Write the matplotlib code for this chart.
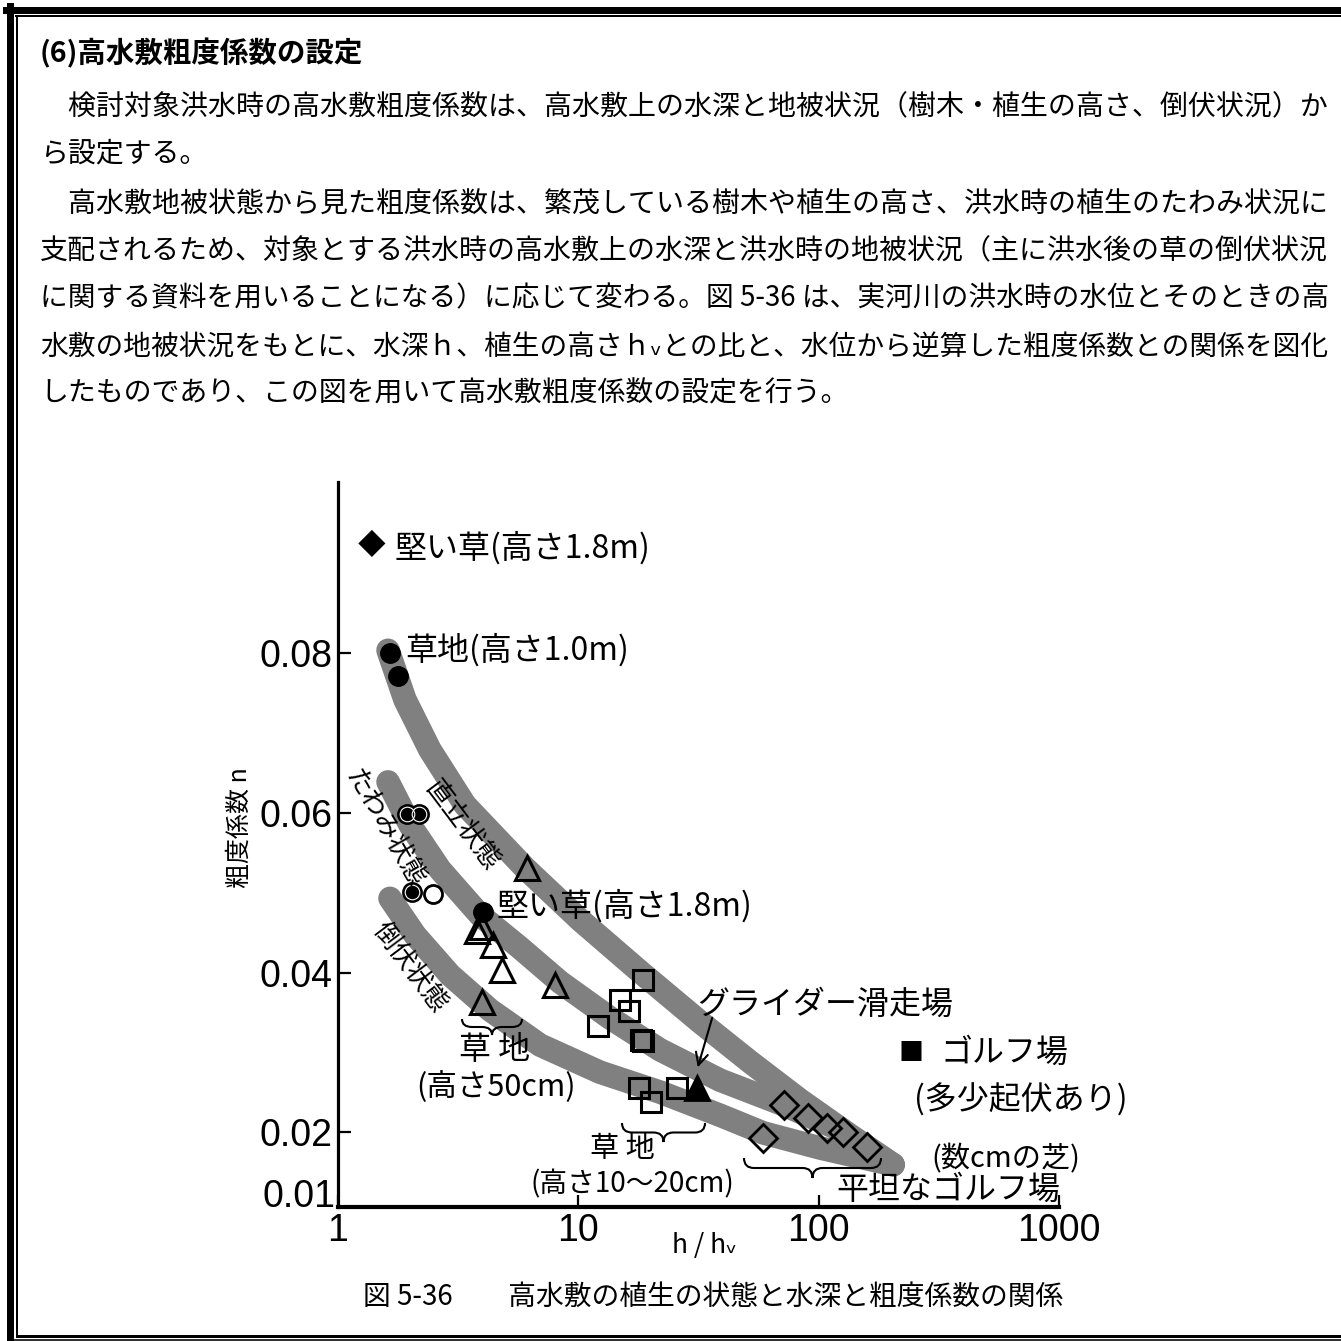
"""
高水敷粗度係数の設定 (図5-36) の再現
"""

import matplotlib
matplotlib.use('Agg')
import matplotlib.pyplot as plt
from matplotlib.lines import Line2D
from matplotlib.patches import PathPatch, FancyArrowPatch
from matplotlib.path import Path
from matplotlib.ticker import NullLocator

W = 1341
JP = ['Noto Sans CJK JP', 'DejaVu Sans']
NUM = ['Liberation Sans Narrow', 'Liberation Sans', 'DejaVu Sans']
plt.rcParams['font.family'] = JP

# ---- 本文 ----
title = '(6)高水敷粗度係数の設定'
body_lines = [
    '　検討対象洪水時の高水敷粗度係数は、高水敷上の水深と地被状況（樹木・植生の高さ、倒伏状況）か',
    'ら設定する。',
    '　高水敷地被状態から見た粗度係数は、繁茂している樹木や植生の高さ、洪水時の植生のたわみ状況に',
    '支配されるため、対象とする洪水時の高水敷上の水深と洪水時の地被状況（主に洪水後の草の倒伏状況',
    'に関する資料を用いることになる）に応じて変わる。図 5-36 は、実河川の洪水時の水位とそのときの高',
    '水敷の地被状況をもとに、水深ｈ、植生の高さｈᵥとの比と、水位から逆算した粗度係数との関係を図化',
    'したものであり、この図を用いて高水敷粗度係数の設定を行う。',
]
body_justify = [True, False, True, True, True, True, False]
caption = '図 5-36　　高水敷の植生の状態と水深と粗度係数の関係'

# ---- 軸 ----
x_ticks = [1, 10, 100, 1000]
x_tick_labels = ['1', '10', '100', '1000']
y_ticks = [0.02, 0.04, 0.06, 0.08]
y_tick_labels = ['0.02', '0.04', '0.06', '0.08']

# ---- 帯 (直立 / たわみ / 倒伏) ----
band_upper_x = [1.615, 1.90, 2.415, 3.378, 6.00, 10.16, 18.06, 32.1, 51.8, 83.7, 135, 204]
band_upper_y = [0.0804, 0.0742, 0.0679, 0.0610, 0.0531, 0.0466, 0.0401, 0.0338, 0.0288, 0.0240, 0.0196, 0.0159]
band_mid_x = [1.615, 1.994, 2.658, 3.90, 5.72, 8.39, 13.55, 21.9, 38.9, 69.1, 122.8, 204]
band_mid_y = [0.0639, 0.0585, 0.0529, 0.0472, 0.0431, 0.0388, 0.0343, 0.0303, 0.0265, 0.0236, 0.0203, 0.0159]
band_low_x = [1.646, 2.091, 2.925, 4.29, 6.93, 12.31, 21.9, 38.9, 58.7, 101.3, 204]
band_low_y = [0.0493, 0.0447, 0.0397, 0.0353, 0.0309, 0.0275, 0.0250, 0.0221, 0.0199, 0.0180, 0.0159]

# ---- 観測点 ----
grass10_x = [1.646, 1.777]              # 草地(高さ1.0m) ●
grass10_y = [0.0801, 0.0772]
ring_x = [1.931, 2.179, 2.026]          # ◉
ring_y = [0.0599, 0.0599, 0.0501]
open_circ_x = [2.493]                   # ○
open_circ_y = [0.0498]
hard_x = [4.025]                        # 堅い草(高さ1.8m) ●
hard_y = [0.0476]
tri_x = [6.10, 3.963, 3.788, 4.43, 4.80, 8.00, 3.963]
tri_y = [0.0531, 0.0457, 0.0452, 0.04345, 0.0403, 0.0384, 0.0363]
sq_x = [18.64, 14.91, 16.30, 12.11, 18.18, 18.5, 17.94, 20.07, 25.67]
sq_y = [0.0391, 0.03655, 0.0352, 0.0333, 0.0316, 0.0314, 0.02548, 0.0238, 0.02548]
glider_x = [31.27]
glider_y = [0.02548]
dia_x = [72.0, 90.3, 108.2, 126.8, 159.0, 58.7]
dia_y = [0.02339, 0.02172, 0.02046, 0.02004, 0.01816, 0.01921]


def fx(px):
    return px / W


def fy(py):
    return 1 - py / W


def ptext(px, py, s, size, ha='left', va='center', **kw):
    return fig.text(fx(px), fy(py), s, fontsize=size, ha=ha, va=va, family=JP, **kw)


def brace(x0, x1, y0, h, lw=1.5):
    xm = (x0 + x1) / 2
    r = min(10, (xm - x0) / 2)
    ym = y0 + h / 2
    pts = [(x0, y0), (x0, ym), (x0 + r, ym), (xm - r, ym), (xm, ym), (xm, y0 + h),
           (xm, ym), (xm + r, ym), (x1 - r, ym), (x1, ym), (x1, y0)]
    codes = [Path.MOVETO, Path.CURVE3, Path.CURVE3, Path.LINETO, Path.CURVE3, Path.CURVE3,
             Path.CURVE3, Path.CURVE3, Path.LINETO, Path.CURVE3, Path.CURVE3]
    path = Path([(fx(a), fy(b)) for a, b in pts], codes)
    fig.add_artist(PathPatch(path, transform=fig.transFigure, fc='none', ec='black', lw=lw))


fig = plt.figure(figsize=(W / 100, W / 100), dpi=100)
fig.patch.set_facecolor('white')

# 枠線
PX = 0.72
fig.add_artist(Line2D([fx(6), fx(W)], [fy(9.5), fy(9.5)], lw=7 * PX, color='black'))
fig.add_artist(Line2D([fx(10), fx(10)], [fy(6), fy(W)], lw=7 * PX, color='black'))
fig.add_artist(Line2D([fx(16), fx(W)], [fy(16.2), fy(16.2)], lw=2 * PX, color='black'))
fig.add_artist(Line2D([fx(17), fx(17)], [fy(16), fy(1336)], lw=2 * PX, color='black'))
fig.add_artist(Line2D([fx(17), fx(W)], [fy(1335.5), fy(1335.5)], lw=3 * PX, color='black'))
fig.add_artist(Line2D([fx(10), fx(W)], [fy(1339.8), fy(1339.8)], lw=1.6 * PX, color='black'))

# 本文
ptext(40, 53, title, 20.5, fontweight='bold')
body_y = [107, 153, 205, 251, 298, 347, 393]
base_fs = 20.1
renderer = fig.canvas.get_renderer()
for s, yy, just in zip(body_lines, body_y, body_justify):
    t = ptext(40, yy, s, base_fs)
    if just:
        w = t.get_window_extent(renderer).width
        t.set_fontsize(base_fs * 1285 / w)
ptext(713, 1297, caption, 20, ha='center')

# グラフ
ax = fig.add_axes([fx(338), fy(1207), (1059 - 338) / W, (1207 - 482) / W])
ax.set_facecolor('none')
ax.set_xscale('log')
ax.set_xlim(1, 1000)
ax.set_ylim(0.0106, 0.1015)

band_kw = dict(color='#808080', lw=17, solid_capstyle='round', solid_joinstyle='round', zorder=1)
ax.plot(band_upper_x, band_upper_y, **band_kw)
ax.plot(band_mid_x, band_mid_y, **band_kw)
ax.plot(band_low_x, band_low_y, **band_kw)

mk = dict(ls='none', zorder=3)
ax.plot(grass10_x, grass10_y, marker='o', ms=14, mfc='black', mec='black', **mk)
ax.plot(ring_x, ring_y, marker='o', ms=13.5, mfc='black', mec='black', mew=1.5, **mk)
ax.plot(ring_x, ring_y, marker='o', ms=10.5, mfc='none', mec='white', mew=0.8, ls='none', zorder=4)
ax.plot(open_circ_x, open_circ_y, marker='o', ms=13, mfc='white', mec='black', mew=2, **mk)
ax.plot(hard_x, hard_y, marker='o', ms=14, mfc='black', mec='black', **mk)
ax.plot(tri_x, tri_y, marker='^', ms=17, mfc='none', mec='black', mew=2.2, **mk)
ax.plot(sq_x, sq_y, marker='s', ms=14, mfc='none', mec='black', mew=2.2, **mk)
ax.plot(glider_x, glider_y, marker='^', ms=17, mfc='black', mec='black', mew=2, **mk)
ax.plot(dia_x, dia_y, marker='D', ms=14, mfc='none', mec='black', mew=2, **mk)

for side in ['top', 'right']:
    ax.spines[side].set_visible(False)
ax.spines['left'].set_linewidth(2.3)
ax.spines['bottom'].set_linewidth(3)

ax.set_xticks(x_ticks)
ax.set_xticklabels(x_tick_labels)
ax.xaxis.set_minor_locator(NullLocator())
ax.set_yticks(y_ticks)
ax.set_yticklabels(y_tick_labels)
ax.tick_params(direction='in', length=9, width=1.6, pad=4, labelsize=27)
for lbl in ax.get_xticklabels() + ax.get_yticklabels():
    lbl.set_family(NUM)
fig.text(fx(335), fy(1197), '0.01', fontsize=27, ha='right', va='center', family=NUM)

ptext(705, 1245, 'h / hᵥ', 19, ha='center')
ptext(240, 828, '粗度係数 n', 18, ha='center', rotation=90)

# 注記
ptext(372, 546, '◆', 20, ha='center')
ptext(395, 548, '堅い草(高さ1.8m)', 23)
ptext(405, 650, '草地(高さ1.0m)', 23)
ptext(497, 906, '堅い草(高さ1.8m)', 23)
ptext(697, 1005, 'グライダー滑走場', 23)
ptext(911, 1053, '■', 18, ha='center')
ptext(940, 1053, 'ゴルフ場', 23)
ptext(914, 1100, '(多少起伏あり)', 23)
ptext(1006, 1159, '(数cmの芝)', 21, ha='center')
ptext(948, 1190, '平坦なゴルフ場', 23, ha='center')
ptext(495, 1050, '草 地', 23, ha='center')
ptext(496, 1087, '(高さ50cm)', 22, ha='center')
ptext(622, 1149, '草 地', 21, ha='center')
ptext(632, 1184, '(高さ10～20cm)', 20, ha='center')
ptext(462, 825, '直立状態', 19, ha='center', rotation=-53, rotation_mode='anchor')
ptext(385, 828, 'たわみ状態', 19, ha='center', rotation=-60, rotation_mode='anchor')
ptext(410, 967, '倒伏状態', 19, ha='center', rotation=-53, rotation_mode='anchor')

brace(462, 522, 1019, 16)
brace(622, 705, 1123, 19)
brace(744, 881, 1158, 20)

fig.add_artist(FancyArrowPatch((fx(713), fy(1015)), (fx(697), fy(1070)), transform=fig.transFigure,
                               arrowstyle='->', mutation_scale=22, lw=1.5, color='black'))

fig.savefig('out.png', dpi=100, facecolor='white')
print('saved out.png')
